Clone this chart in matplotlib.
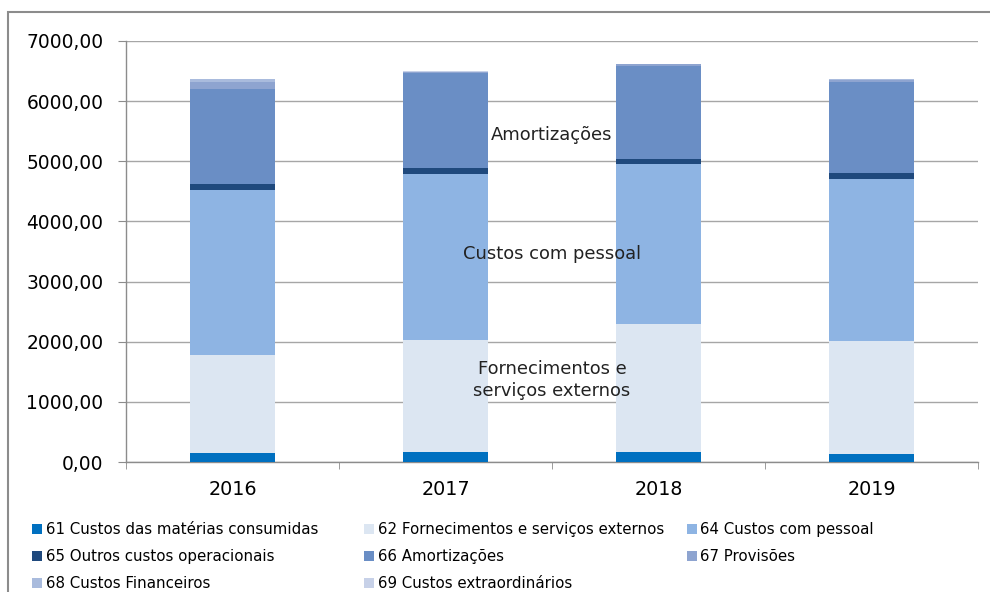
import matplotlib
matplotlib.use("Agg")
import matplotlib.pyplot as plt
from matplotlib.patches import Rectangle
from matplotlib.ticker import FuncFormatter, FixedLocator
import numpy as np

# Cost data per year
years = ["2016", "2017", "2018", "2019"]
c61 = [150, 165, 165, 135]      # Custos das matérias consumidas
c62 = [1630, 1865, 2135, 1880]  # Fornecimentos e serviços externos
c64 = [2745, 2760, 2660, 2695]  # Custos com pessoal
c65 = [100, 100, 80, 100]       # Outros custos operacionais
c66 = [1580, 1580, 1550, 1510]  # Amortizações
c67 = [115, 10, 20, 35]         # Provisões
c68 = [40, 10, 10, 15]          # Custos Financeiros
c69 = [10, 5, 5, 5]             # Custos extraordinários

series_names = ["61 Custos das matérias consumidas",
                "62 Fornecimentos e serviços externos",
                "64 Custos com pessoal",
                "65 Outros custos operacionais",
                "66 Amortizações",
                "67 Provisões",
                "68 Custos Financeiros",
                "69 Custos extraordinários"]
series_colors = ["#0070C0", "#DCE6F2", "#8EB4E3", "#1F497D",
                 "#6A8EC5", "#8EA4D0", "#A9BBDD", "#C7D1E8"]

annotations = ["Amortizações", "Custos com pessoal",
               "Fornecimentos e\nserviços externos"]
annot_y = [5440, 3460, 1365]

W, H = 990, 592
fig = plt.figure(figsize=(W / 100, H / 100), dpi=100)
ax = fig.add_axes([126 / W, 1 - 462 / H, 852 / W, 421 / H])

x = np.arange(len(years))
bottom = np.zeros(len(years))
bars = []
for vals, name, col in zip([c61, c62, c64, c65, c66, c67, c68, c69],
                           series_names, series_colors):
    b = ax.bar(x, vals, width=0.4, bottom=bottom, color=col, label=name,
               zorder=3, linewidth=0)
    bars.append(b)
    bottom += np.array(vals)

ax.set_xlim(-0.5, 3.5)
ax.set_ylim(0, 7000)
ax.set_yticks(np.arange(0, 7001, 1000))
ax.yaxis.set_major_formatter(FuncFormatter(lambda v, p: f"{v:.2f}".replace(".", ",")))
ax.yaxis.grid(True, color="#a6a6a6", linewidth=1, zorder=0)
ax.set_axisbelow(True)

ax.set_xticks(x)
ax.set_xticklabels(years)
ax.xaxis.set_minor_locator(FixedLocator([-0.5, 0.5, 1.5, 2.5, 3.5]))
ax.tick_params(axis="x", which="major", length=0, pad=13, labelsize=13.8)
ax.tick_params(axis="x", which="minor", length=5, color="#8c8c8c", direction="out")
ax.tick_params(axis="y", length=5.8, color="#8c8c8c", pad=10.5, labelsize=13.4)

for s in ["top", "right"]:
    ax.spines[s].set_visible(False)
for s in ["left", "bottom"]:
    ax.spines[s].set_color("#8c8c8c")
    ax.spines[s].set_linewidth(1)

for txt, yy in zip(annotations, annot_y):
    ax.text(1.5, yy, txt, ha="center", va="center", fontsize=12.9,
            color="#222222", zorder=5, linespacing=1.25)

# legend: one column each, placed like the original (row-major order)
columns = [[0, 3, 6], [1, 4, 7], [2, 5]]
col_x = [26, 358, 681]
for idx, cx in zip(columns, col_x):
    fig.legend([bars[i] for i in idx], [series_names[i] for i in idx],
               loc="upper left", bbox_to_anchor=(cx / W, 1 - 516 / H),
               frameon=False, fontsize=10.8, handlelength=0.65,
               handleheight=0.65, handletextpad=0.25, labelspacing=0.8,
               borderaxespad=0)

# outer chart frame (runs off the right and bottom edges)
fig.add_artist(Rectangle((8 / W, -0.05), 1.05, 1 - 12 / H + 0.05,
                         transform=fig.transFigure, fill=False,
                         edgecolor="#8c8c8c", linewidth=1.5))

fig.savefig("out.png", dpi=100)
